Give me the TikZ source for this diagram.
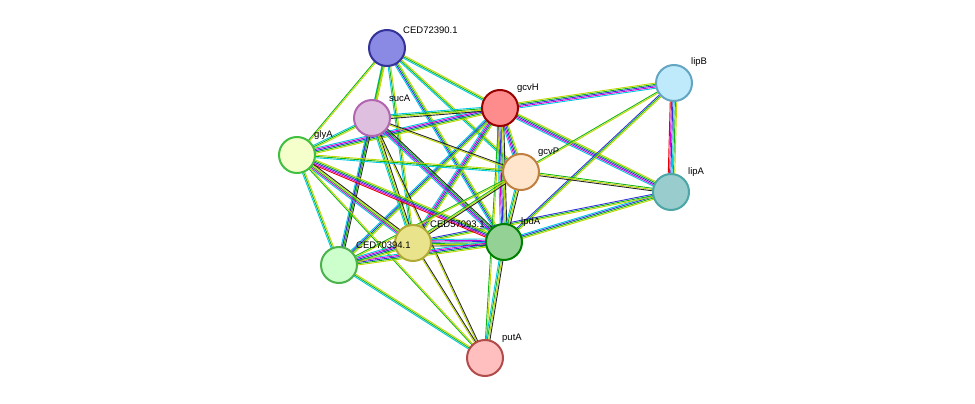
\documentclass[tikz,border=0pt]{standalone}
\usepackage{fontspec}
\setmainfont{Liberation Sans}
\usetikzlibrary{calc,backgrounds}

\definecolor{cCyan}{RGB}{0,200,225}
\definecolor{cPink}{RGB}{210,0,210}
\definecolor{cBlue}{RGB}{50,50,220}
\definecolor{cGreen}{RGB}{20,180,20}
\definecolor{cYel}{RGB}{190,215,0}
\definecolor{cBlk}{RGB}{40,40,40}
\definecolor{cRed}{RGB}{230,0,0}

\tikzset{
  prot/.style={circle,minimum size=36pt,inner sep=0pt,line width=2pt},
  lbl/.style={font=\fontsize{9.5}{11}\selectfont,inner sep=1pt,anchor=south west}
}
% bundle of coloured lines between two nodes
\newcommand{\lnk}[4]{%
  \foreach \c [count=\i] in {#4} {
    \pgfmathsetmacro{\o}{(\i-(#3+1)/2)*1.3}
    \draw[\c,line width=0.9pt] ($(#1.center)!\o pt!90:(#2.center)$) -- ($(#2.center)!\o pt!-90:(#1.center)$);
  }}

\begin{document}
\begin{tikzpicture}[x=1pt,y=-1pt]
\useasboundingbox (0,0) rectangle (975,404);
\node[prot,draw=blue!50!black!80,fill=blue!40!white!90!black] (ced72) at (387,48) {};
\node[prot,draw=red!60!black,fill=red!45] (gcvH) at (500,108) {};
\node[prot,draw=cyan!50!gray,fill=cyan!25] (lipB) at (674,83) {};
\node[prot,draw=violet!60,fill=violet!25] (sucA) at (372,118) {};
\node[prot,draw=green!50!gray,fill=green!20!yellow!20] (glyA) at (297,155) {};
\node[prot,draw=orange!50!gray,fill=orange!20] (gcvP) at (521,172) {};
\node[prot,draw=teal!70,fill=teal!40] (lipA) at (671,192) {};
\node[prot,draw=olive!70,fill=yellow!50!olive!40] (ced57) at (413,243) {};
\node[prot,draw=green!40!gray,fill=green!20] (ced70) at (339,265) {};
\node[prot,draw=green!50!black,fill=green!40!gray!60] (lpdA) at (504,242) {};
\node[prot,draw=red!40!gray,fill=red!25] (putA) at (485,358) {};

\node[lbl] (ced72-l) at (402,35) {CED72390.1};
\node[lbl] (gcvH-l) at (516,94) {gcvH};
\node[lbl] (lipB-l) at (690,68) {lipB};
\node[lbl] (sucA-l) at (388,103) {sucA};
\node[lbl] (glyA-l) at (313,141) {glyA};
\node[lbl] (gcvP-l) at (537,158) {gcvP};
\node[lbl] (lipA-l) at (687,178) {lipA};
\node[lbl] (ced57-l) at (429,229) {CED57093.1};
\node[lbl] (ced70-l) at (355,250) {CED70394.1};
\node[lbl] (lpdA-l) at (520,228) {lpdA};
\node[lbl] (putA-l) at (501,344) {putA};

\begin{pgfonlayer}{background}
\lnk{ced72}{sucA}{3}{cCyan,cGreen,cYel}
\lnk{ced72}{glyA}{2}{cGreen,cYel}
\lnk{ced72}{gcvH}{3}{cCyan,cGreen,cYel}
\lnk{ced72}{gcvP}{3}{cCyan,cGreen,cYel}
\lnk{ced72}{ced57}{3}{cCyan,cGreen,cYel}
\lnk{ced72}{lpdA}{4}{cCyan,cBlue,cGreen,cYel}
\lnk{ced72}{ced70}{2}{cGreen,cYel}
\lnk{gcvH}{lipB}{5}{cCyan,cPink,cBlue,cGreen,cYel}
\lnk{gcvH}{lipA}{5}{cCyan,cPink,cBlue,cGreen,cYel}
\lnk{gcvH}{gcvP}{5}{cCyan,cPink,cBlue,cGreen,cYel}
\lnk{gcvH}{lpdA}{6}{cCyan,cPink,cBlue,cGreen,cYel,cBlk}
\lnk{gcvH}{ced57}{5}{cCyan,cPink,cBlue,cGreen,cYel}
\lnk{gcvH}{ced70}{4}{cCyan,cBlue,cGreen,cYel}
\lnk{gcvH}{glyA}{5}{cCyan,cPink,cBlue,cGreen,cYel}
\lnk{gcvH}{sucA}{4}{cCyan,cGreen,cYel,cBlk}
\lnk{gcvH}{putA}{2}{cGreen,cYel}
\lnk{lipB}{lipA}{6}{cRed,cPink,cBlue,cCyan,cGreen,cYel}
\lnk{lipB}{gcvP}{2}{cGreen,cYel}
\lnk{lipB}{lpdA}{3}{cBlue,cGreen,cYel}
\lnk{lipA}{gcvP}{3}{cGreen,cYel,cBlk}
\lnk{lipA}{lpdA}{4}{cCyan,cBlue,cGreen,cYel}
\lnk{lipA}{ced57}{3}{cBlue,cGreen,cYel}
\lnk{sucA}{glyA}{3}{cCyan,cGreen,cYel}
\lnk{sucA}{gcvP}{2}{cYel,cBlk}
\lnk{sucA}{lpdA}{5}{cCyan,cPink,cBlue,cGreen,cBlk}
\lnk{sucA}{ced57}{4}{cCyan,cGreen,cYel,cBlk}
\lnk{sucA}{ced70}{4}{cCyan,cBlue,cGreen,cBlk}
\lnk{sucA}{putA}{2}{cYel,cBlk}
\lnk{glyA}{gcvP}{3}{cCyan,cGreen,cYel}
\lnk{glyA}{lpdA}{5}{cRed,cPink,cBlue,cGreen,cYel}
\lnk{glyA}{ced57}{5}{cCyan,cPink,cGreen,cYel,cBlk}
\lnk{glyA}{ced70}{3}{cCyan,cGreen,cYel}
\lnk{glyA}{putA}{2}{cGreen,cYel}
\lnk{gcvP}{lpdA}{4}{cCyan,cGreen,cYel,cBlk}
\lnk{gcvP}{ced57}{3}{cGreen,cYel,cBlk}
\lnk{gcvP}{ced70}{2}{cGreen,cYel}
\lnk{lpdA}{ced57}{6}{cCyan,cPink,cBlue,cGreen,cYel,cBlk}
\lnk{lpdA}{ced70}{5}{cCyan,cPink,cBlue,cGreen,cYel}
\lnk{lpdA}{putA}{4}{cCyan,cGreen,cYel,cBlk}
\lnk{ced57}{ced70}{5}{cCyan,cPink,cBlue,cGreen,cYel}
\lnk{ced57}{putA}{2}{cYel,cBlk}
\lnk{ced70}{putA}{3}{cCyan,cGreen,cYel}
\end{pgfonlayer}
\end{tikzpicture}
\end{document}
